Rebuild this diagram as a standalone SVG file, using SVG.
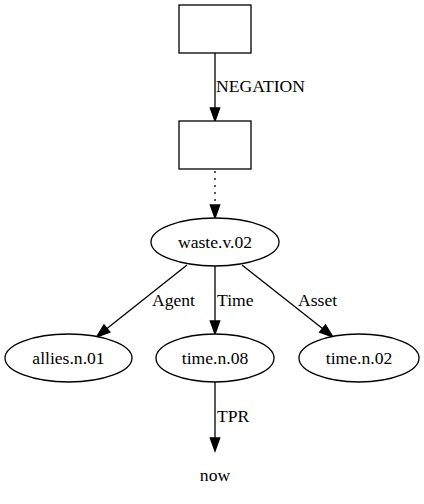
<svg xmlns="http://www.w3.org/2000/svg" width="424" height="504" viewBox="0 0 424 504">
<style>
.n{fill:#fff;stroke:#000;stroke-width:1.3}
.e{stroke:#000;stroke-width:1.3;fill:none}
.d{stroke-dasharray:2,5}
.a{fill:#000;stroke:#000;stroke-width:1.3}
text{font-family:"Liberation Serif","Times New Roman","DejaVu Serif",serif;font-size:17.6px;fill:#000}
.c{text-anchor:middle}
</style>
<rect width="424" height="504" fill="#fff"/>
<g id="connectors">
<g id="e-negation"><line class="e" x1="215" y1="53" x2="215" y2="108"/><polygon class="a" points="210.3,108 219.7,108 215,121"/><text x="216" y="92">NEGATION</text></g>
<g id="e-dotted"><line class="e d" x1="215" y1="171" x2="215" y2="205"/><polygon class="a" points="210.3,205 219.7,205 215,218"/></g>
<g id="e-agent"><line class="e" x1="187" y1="265" x2="107" y2="328.5"/><polygon class="a" points="104,324.8 109.9,332.2 96.5,337"/><text x="152" y="306">Agent</text></g>
<g id="e-time"><line class="e" x1="215" y1="266" x2="215" y2="321"/><polygon class="a" points="210.3,321 219.7,321 215,334"/><text x="217" y="306">Time</text></g>
<g id="e-asset"><line class="e" x1="242" y1="265" x2="322.5" y2="328.5"/><polygon class="a" points="325.5,324.8 319.6,332.2 333,337"/><text x="298" y="306">Asset</text></g>
<g id="e-tpr"><line class="e" x1="215" y1="382" x2="215" y2="438"/><polygon class="a" points="210.3,438 219.7,438 215,451"/><text x="217" y="422">TPR</text></g>
</g>
<g id="box1"><rect class="n" x="179" y="5" width="72" height="48"/></g>
<g id="box2"><rect class="n" x="179" y="121" width="72" height="48"/></g>
<g id="waste"><ellipse class="n" cx="215" cy="242" rx="64" ry="24"/><text class="c" x="215" y="248">waste.v.02</text></g>
<g id="allies"><ellipse class="n" cx="68.5" cy="358" rx="63.5" ry="24"/><text class="c" x="68.5" y="364">allies.n.01</text></g>
<g id="time08"><ellipse class="n" cx="215" cy="358" rx="59" ry="24"/><text class="c" x="215" y="364">time.n.08</text></g>
<g id="time02"><ellipse class="n" cx="359" cy="358" rx="60" ry="24"/><text class="c" x="359" y="364">time.n.02</text></g>
<g id="now"><text class="c" x="215" y="481">now</text></g>
</svg>
